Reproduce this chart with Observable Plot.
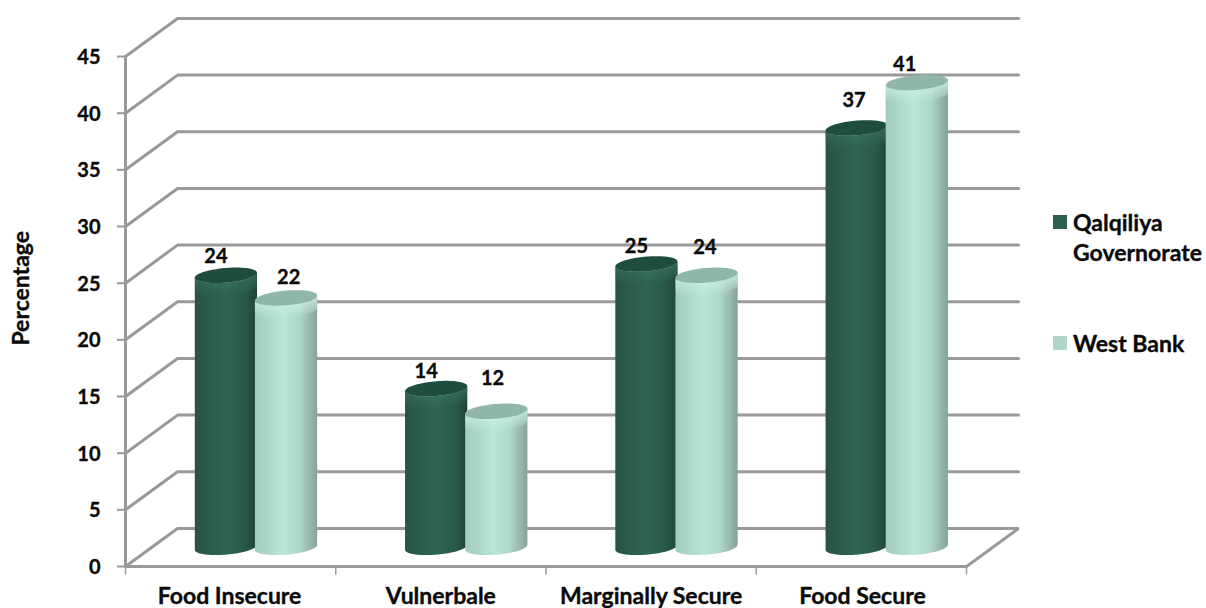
<!DOCTYPE html>
<html>
<head>
<meta charset="utf-8">
<script src="https://cdn.jsdelivr.net/npm/d3@7"></script>
<script src="https://cdn.jsdelivr.net/npm/@observablehq/plot@0.6"></script>
<style>
  html, body { margin: 0; background: #fff; }
  #chart { position: relative; width: 1206px; height: 608px; font-family: Lato, sans-serif; font-weight: 700; color: #0a0a0a; overflow: hidden; }
  #chart svg text { stroke: #0a0a0a; stroke-width: 0.35px; }
  .key { position: absolute; left: 1073px; font-size: 23px; line-height: 30px; white-space: nowrap; -webkit-text-stroke: 0.35px #0a0a0a; }
  .swatch { position: absolute; left: 1053px; width: 14px; height: 14px; }
</style>
</head>
<body>
<div id="chart"></div>
<script>
// Food security categories and the two compared areas
const categories = ["Food Insecure", "Vulnerbale", "Marginally Secure", "Food Secure"];
const qalqiliya = [24, 14, 25, 37];
const westBank = [22, 12, 24, 41];
const yTicks = [0, 5, 10, 15, 20, 25, 30, 35, 40, 45];
const yLabel = "Percentage";

// Floor projection of the chart box, expressed in scale units
const depthX = 0.2476, depthY = 3.36;
const floorY = 1.65;          // cylinders stand halfway into the box
const capRy = 0.65, capTilt = 0.22, halfWidth = 0.148;
const seriesShift = [0.48, 0.766];

// Nudges that keep the value labels clear of the neighbouring column
const labelShift = [[-0.05, -0.05, -0.05, -0.015], [0.01, -0.02, -0.01, -0.06]];
const labelLift = [[3.35, 3.2, 3.25, 4.1], [3.45, 4.55, 4.1, 3.3]];

// Category label anchors along the x axis
const categoryLabelAt = [0.495, 1.5, 2.5, 3.505];

const columns = [];
[qalqiliya, westBank].forEach((values, s) => {
  values.forEach((v, c) => columns.push({s, c, v, cx: c + seriesShift[s], key: `${s}-${c}`}));
});

// Half-ellipse samples across a column; upper = far rim, lower = near rim
const angles = d3.range(0, 49).map(i => Math.PI - i * Math.PI / 48);
function rim(col, level, side) {
  return angles.map(a => {
    const t = Math.cos(a);
    return {t, u: col.cx + halfWidth * t, y: level + floorY + capTilt * t + side * capRy * Math.sin(a)};
  });
}
function band(col, loLevel, loSide, hiLevel, hiSide) {
  const lo = rim(col, loLevel, loSide), hi = rim(col, hiLevel, hiSide);
  return lo.map((p, i) => ({key: col.key, s: col.s, u: p.u, y1: p.y, y2: hi[i].y}));
}
const bodies = columns.flatMap(c => band(c, 0, -1, c.v, -1));
const caps = columns.flatMap(c => band(c, c.v, -1, c.v, 1));
const bevels = columns.flatMap(c => band(c, c.v - 1.1, -1, c.v, -1));

// Back wall and side of the box: front edge, back edge, plus the closed floor
const grid = yTicks.flatMap(t => {
  const pts = [
    {t, u: 0, y: t},
    {t, u: depthX, y: t + depthY},
    {t, u: 4 + depthX, y: t + depthY}
  ];
  if (t === 0) pts.push({t, u: 4, y: 0}, {t, u: 0, y: 0});
  return pts;
});

const labels = columns.map(c => ({
  text: String(c.v),
  u: c.cx + labelShift[c.s][c.c],
  y: c.v + labelLift[c.s][c.c]
}));

const gradients = () => {
  const defs = d3.create("svg:defs");
  defs.html(`
    <linearGradient id="darkBody" x1="0" x2="1" y1="0" y2="0">
      <stop offset="0" stop-color="#2a5045"/><stop offset="0.12" stop-color="#29584a"/>
      <stop offset="0.5" stop-color="#2f6453"/><stop offset="0.82" stop-color="#285848"/>
      <stop offset="1" stop-color="#204236"/>
    </linearGradient>
    <linearGradient id="lightBody" x1="0" x2="1" y1="0" y2="0">
      <stop offset="0" stop-color="#a2cbbc"/><stop offset="0.45" stop-color="#b8e6d6"/>
      <stop offset="0.72" stop-color="#add7c8"/><stop offset="1" stop-color="#87a298"/>
    </linearGradient>
    <linearGradient id="darkBevel" x1="0" x2="0" y1="0" y2="1">
      <stop offset="0.2" stop-color="#3f7d69" stop-opacity="0.5"/><stop offset="1" stop-color="#3f7d69" stop-opacity="0"/>
    </linearGradient>
    <linearGradient id="lightBevel" x1="0" x2="0" y1="0" y2="1">
      <stop offset="0.2" stop-color="#d6f5ea" stop-opacity="0.7"/><stop offset="1" stop-color="#d6f5ea" stop-opacity="0"/>
    </linearGradient>`);
  return defs.node();
};

const gray = "#999999";
const text = {fontFamily: "Lato, sans-serif", fontWeight: 700, fill: "#0a0a0a"};

const plot = Plot.plot({
  width: 1206,
  height: 608,
  marginLeft: 125,
  marginRight: 240,
  marginTop: 56,
  marginBottom: 42,
  style: {background: "transparent", overflow: "visible"},
  x: {type: "linear", domain: [0, 4], range: [125, 966]},
  y: {domain: [0, 45], range: [566, 56]},
  marks: [
    gradients,
    Plot.line(grid, {x: "u", y: "y", z: "t", stroke: gray, strokeWidth: 3, strokeLinejoin: "miter"}),
    Plot.ruleX([0], {y1: 0, y2: 45, stroke: gray, strokeWidth: 3}),
    Plot.ruleX([0, 1, 2, 3, 4], {y1: 0, y2: -0.75, stroke: gray, strokeWidth: 1.5}),
    Plot.axisY({ticks: yTicks, tickFormat: () => "", tickSize: 8, stroke: gray, strokeWidth: 2, label: null}),
    Plot.axisY({ticks: yTicks, tickSize: 0, tickPadding: 25, label: null, fontSize: 20, dy: 1, ...text}),
    Plot.text([yLabel], {
      x: [-0.495], y: [24.55], text: d => d, rotate: -90, fontSize: 23, ...text
    }),
    Plot.axisX({
      ticks: categoryLabelAt, tickSize: 0, tickPadding: 21, label: null,
      tickFormat: (d, i) => categories[i], fontSize: 23, ...text
    }),

    // Columns: darker series first so the pale ones sit in front
    ...[0, 1].flatMap(s => [
      Plot.areaY(bodies.filter(d => d.s === s), {
        x: "u", y1: "y1", y2: "y2", z: "key", fill: s ? "url(#lightBody)" : "url(#darkBody)"
      }),
      Plot.areaY(bevels.filter(d => d.s === s), {
        x: "u", y1: "y1", y2: "y2", z: "key", fill: s ? "url(#lightBevel)" : "url(#darkBevel)"
      }),
      Plot.areaY(caps.filter(d => d.s === s), {
        x: "u", y1: "y1", y2: "y2", z: "key", fill: s ? "#8fb6a8" : "#1e4c3f"
      })
    ]),

    Plot.text(labels, {x: "u", y: "y", text: "text", fontSize: 20, ...text})
  ]
});

const chart = document.getElementById("chart");
chart.appendChild(plot);

// Legend to the right of the plot area
const legend = [
  {top: 215, textTop: 207, color: "#2f5f50", lines: ["Qalqiliya", "Governorate"]},
  {top: 336, textTop: 328, color: "#b0d6c8", lines: ["West Bank"]}
];
legend.forEach(item => {
  const swatch = document.createElement("div");
  swatch.className = "swatch";
  swatch.style.top = item.top + "px";
  swatch.style.background = item.color;
  chart.appendChild(swatch);
  const label = document.createElement("div");
  label.className = "key";
  label.style.top = item.textTop + "px";
  label.innerHTML = item.lines.join("<br>");
  chart.appendChild(label);
});
</script>
</body>
</html>
